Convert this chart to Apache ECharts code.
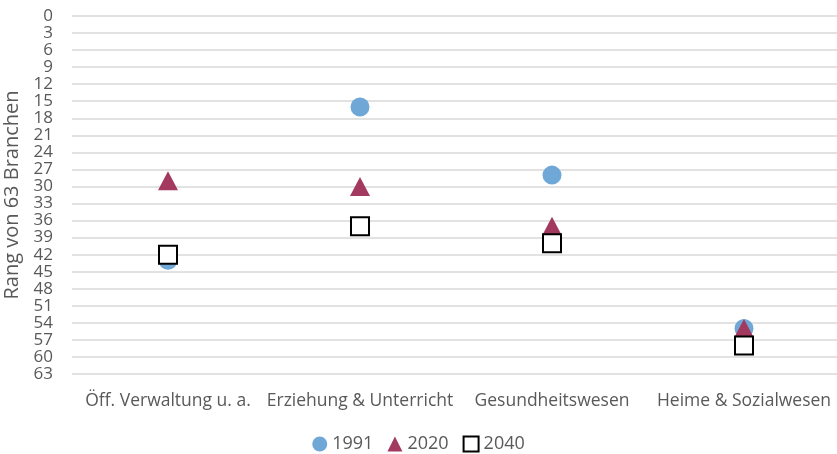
<!DOCTYPE html>
<html><head><meta charset="utf-8">
<script src="https://cdn.jsdelivr.net/npm/echarts@6/dist/echarts.min.js"></script>
<style>html,body{margin:0;padding:0;background:#fff}#c{width:837px;height:454px}</style>
</head><body><div id="c"></div>
<script>
const categories = ["Öff. Verwaltung u. a.", "Erziehung & Unterricht", "Gesundheitswesen", "Heime & Sozialwesen"];
const values1991 = [43, 16, 28, 55];
const values2020 = [29, 30, 37, 55];
const values2040 = [42, 37, 40, 58];
const yTicks = [0,3,6,9,12,15,18,21,24,27,30,33,36,39,42,45,48,51,54,57,60,63];

const font = "'Open Sans', 'Noto Sans', sans-serif";
const chart = echarts.init(document.getElementById('c'), null, {renderer: 'canvas'});
chart.setOption({
  animation: false,
  textStyle: {fontFamily: font},
  grid: {left: 72, right: -3, top: 16, bottom: 80, containLabel: false, outerBoundsMode: 'none'},
  legend: {
    top: 430, left: 'center', itemWidth: 15, itemHeight: 15, itemGap: 14,
    textStyle: {fontFamily: font, fontSize: 18, color: '#595959'},
    data: ['1991', '2020', '2040']
  },
  xAxis: {
    type: 'category', data: categories, boundaryGap: true,
    axisLine: {show: false}, axisTick: {show: false},
    axisLabel: {fontFamily: font, fontSize: 17.5, color: '#595959', margin: 18, interval: 0}
  },
  yAxis: {
    type: 'value', inverse: true, min: 0, max: 63, interval: 3,
    name: 'Rang von 63 Branchen', nameLocation: 'middle', nameGap: 45, nameRotate: 90,
    nameTextStyle: {fontFamily: font, fontSize: 20, color: '#595959'},
    axisLine: {show: false}, axisTick: {show: false},
    axisLabel: {fontFamily: font, fontSize: 17, color: '#595959', margin: 19,
      formatter: v => yTicks.includes(v) ? String(v) : ''},
    splitLine: {show: true, lineStyle: {color: '#d9d9d9', width: 1.5}}
  },
  series: [
    {name: '1991', type: 'scatter', data: values1991, symbol: 'circle', symbolSize: 19,
      itemStyle: {color: '#6fa8d6', opacity: 1}},
    {name: '2020', type: 'scatter', data: values2020, symbol: 'triangle', symbolSize: [20, 19],
      itemStyle: {color: '#a3395f', opacity: 1}},
    {name: '2040', type: 'scatter', data: values2040, symbol: 'rect', symbolSize: 18,
      itemStyle: {color: '#ffffff', borderColor: '#000000', borderWidth: 2, opacity: 1}}
  ]
});
</script></body></html>
